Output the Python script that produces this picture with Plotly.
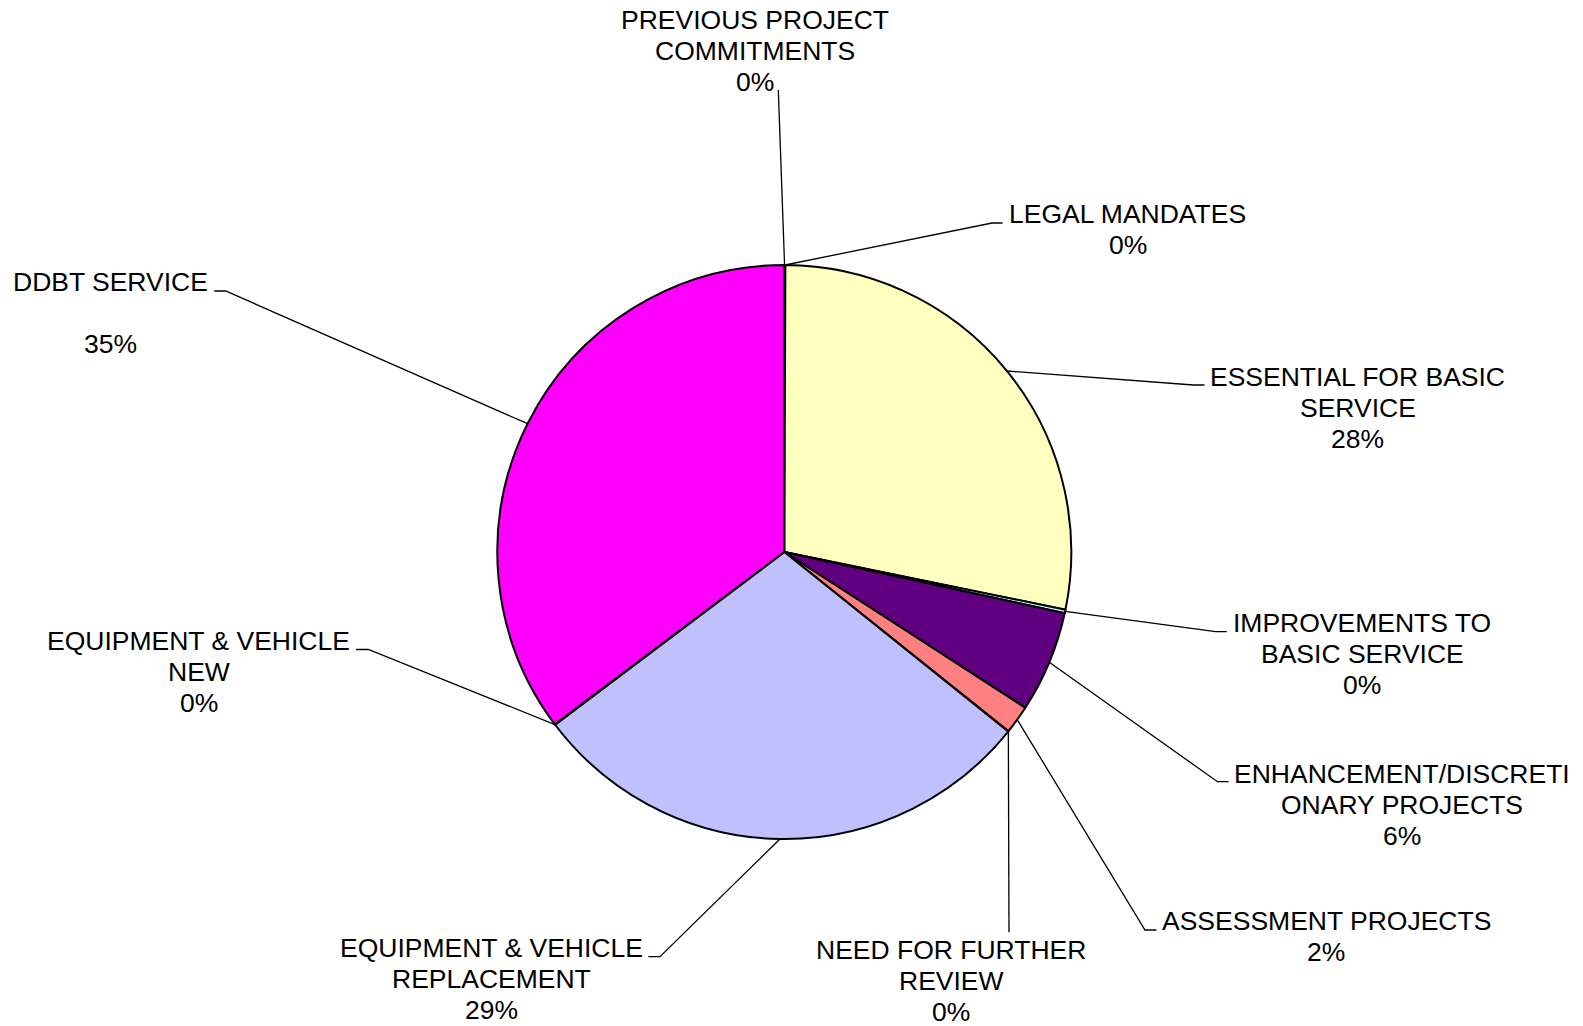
import math
import plotly.graph_objects as go

# ---------------- data ----------------
categories = [
    "PREVIOUS PROJECT COMMITMENTS",
    "LEGAL MANDATES",
    "ESSENTIAL FOR BASIC SERVICE",
    "IMPROVEMENTS TO BASIC SERVICE",
    "ENHANCEMENT/DISCRETIONARY PROJECTS",
    "ASSESSMENT PROJECTS",
    "NEED FOR FURTHER REVIEW",
    "EQUIPMENT & VEHICLE REPLACEMENT",
    "EQUIPMENT & VEHICLE NEW",
    "DDBT SERVICE",
]
label_lines = [
    ["PREVIOUS PROJECT", "COMMITMENTS"],
    ["LEGAL MANDATES"],
    ["ESSENTIAL FOR BASIC", "SERVICE"],
    ["IMPROVEMENTS TO", "BASIC SERVICE"],
    ["ENHANCEMENT/DISCRETI", "ONARY PROJECTS"],
    ["ASSESSMENT PROJECTS"],
    ["NEED FOR FURTHER", "REVIEW"],
    ["EQUIPMENT & VEHICLE", "REPLACEMENT"],
    ["EQUIPMENT & VEHICLE", "NEW"],
    ["DDBT SERVICE", ""],
]
shares = [0.03, 0.03, 28.2, 0.2, 5.72, 1.6, 0.03, 29.0, 0.03, 35.3]

colors = ["#9999FF", "#993366", "#FFFFC0", "#C0FFFF", "#600080",
          "#FF8080", "#0066CC", "#C0C0FF", "#000080", "#FF00FF"]

# ---------------- layout (pixel positions) ----------------
W, H = 1583, 1026
CX, CY, R = 784.3, 552.0, 287.0
LINE_H = 31.0
FONT = dict(family="Liberation Sans, Arial, sans-serif", size=26.5, color="black")

# per-label: elbow point, segment end, text centre x, first-line centre y
label_pos = [
    ((778.3, 90.0), (778.3, 90.0), 755.0, 19.5),
    ((992.0, 223.0), (1002.5, 223.0), 1127.5, 214.2),
    ((1193.5, 385.0), (1204.5, 385.0), 1357.7, 377.0),
    ((1215.6, 631.7), (1226.8, 631.7), 1362.0, 622.5),
    ((1217.5, 781.7), (1228.6, 781.7), 1402.4, 773.7),
    ((1145.0, 930.0), (1156.5, 930.0), 1326.0, 920.8),
    ((1009.0, 932.3), (1009.0, 932.3), 951.0, 949.5),
    ((660.0, 956.7), (648.3, 956.7), 491.0, 948.3),
    ((368.3, 649.5), (356.0, 649.5), 198.5, 640.8),
    ((225.7, 291.0), (214.3, 291.0), 110.5, 281.8),
]

total = sum(shares)

fig = go.Figure()

fig.add_trace(go.Pie(
    values=shares,
    labels=categories,
    sort=False,
    direction="clockwise",
    rotation=0,
    textinfo="none",
    marker=dict(colors=colors, line=dict(color="black", width=2)),
    domain=dict(x=[(CX - R) / W, (CX + R) / W],
                y=[(H - CY - R) / H, (H - CY + R) / H]),
    showlegend=False,
    hoverinfo="label+percent",
))

# leader lines
lx, ly = [], []
annotations = []
cum = 0.0
for i, v in enumerate(shares):
    mid = (cum + v / 2) / total * 2 * math.pi
    cum += v
    sx = CX + R * math.sin(mid)
    sy = CY - R * math.cos(mid)
    (ex, ey), (tx, ty), cxt, y0 = label_pos[i]
    lx += [sx, ex, tx, None]
    ly += [sy, ey, ty, None]
    pct = f"{round(v / total * 100)}%"
    lines = label_lines[i] + [pct]
    for k, t in enumerate(lines):
        if not t:
            continue
        annotations.append(dict(
            x=cxt, y=y0 + k * LINE_H, xref="x", yref="y",
            text=t, showarrow=False, xanchor="center", yanchor="middle",
            font=FONT,
        ))

fig.add_trace(go.Scatter(
    x=lx, y=ly, mode="lines",
    line=dict(color="black", width=1.3),
    hoverinfo="skip", showlegend=False,
))

fig.update_layout(
    width=W, height=H,
    margin=dict(l=0, r=0, t=0, b=0),
    paper_bgcolor="white", plot_bgcolor="rgba(0,0,0,0)",
    showlegend=False,
    xaxis=dict(range=[0, W], visible=False, fixedrange=True, domain=[0, 1]),
    yaxis=dict(range=[H, 0], visible=False, fixedrange=True, domain=[0, 1]),
    annotations=annotations,
)

fig.write_html("out.html")
